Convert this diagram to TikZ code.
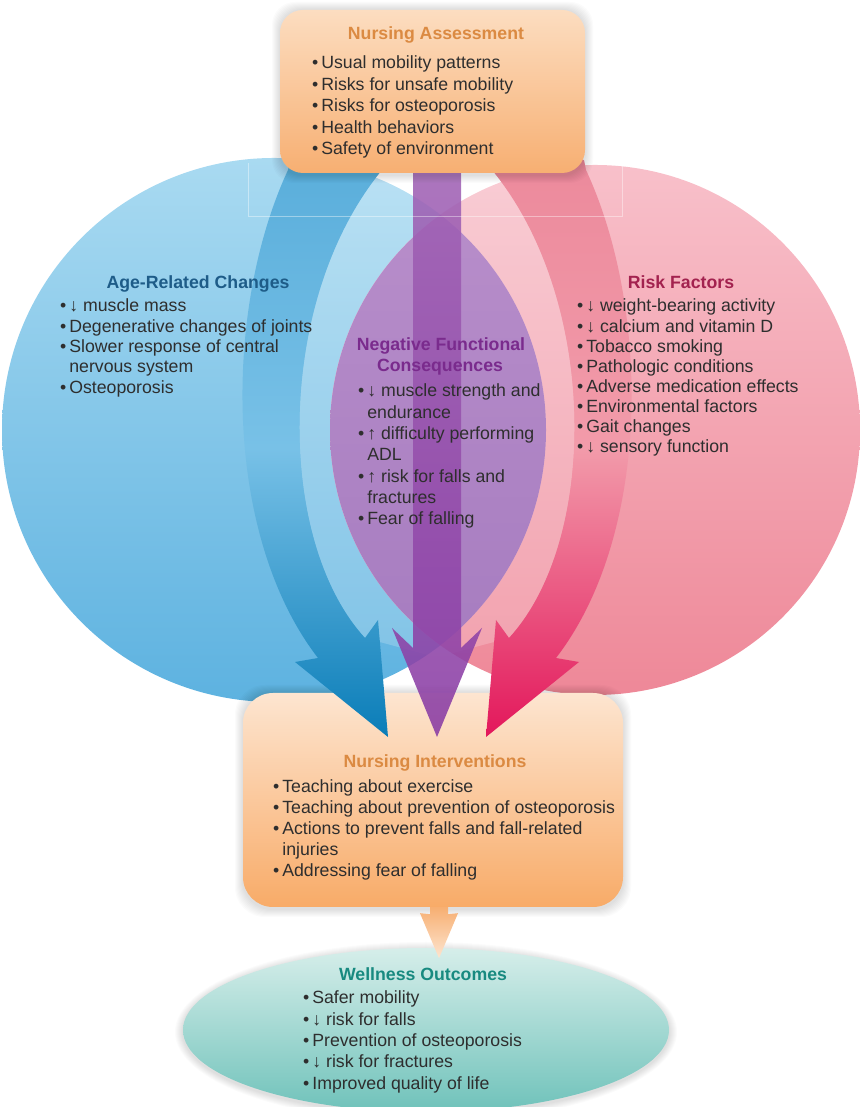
\documentclass[tikz,border=0pt]{standalone}
\usepackage{fontspec}
\setmainfont{Liberation Sans}
\usetikzlibrary{shapes.geometric}

\definecolor{agetop}{HTML}{A9DAF1}
\definecolor{agebot}{HTML}{5DB2E0}
\definecolor{risktop}{HTML}{F8C0CA}
\definecolor{riskbot}{HTML}{EE8898}
\definecolor{lenstop}{HTML}{B98FCB}
\definecolor{lensbot}{HTML}{A57BBF}
\definecolor{blueA}{HTML}{5AAEDB}
\definecolor{blueB}{HTML}{78C1E7}
\definecolor{blueC}{HTML}{0A7DB8}
\definecolor{pinkA}{HTML}{EC8A9C}
\definecolor{pinkB}{HTML}{F29BAA}
\definecolor{pinkC}{HTML}{E3175B}
\definecolor{purpA}{HTML}{A063B5}
\definecolor{purpC}{HTML}{8A3CA4}
\definecolor{boxtop}{HTML}{FCDDC0}
\definecolor{boxbot}{HTML}{F7AF72}
\definecolor{inttop}{HTML}{FDE5D0}
\definecolor{intbot}{HTML}{F8AB68}
\definecolor{welltop}{HTML}{D6EEEA}
\definecolor{wellbot}{HTML}{6FC2BA}
\definecolor{nurshead}{HTML}{DB8A42}
\definecolor{agehead}{HTML}{1E5C88}
\definecolor{riskhead}{HTML}{A3224F}
\definecolor{neghead}{HTML}{7A2B8D}
\definecolor{wellhead}{HTML}{188A80}
\definecolor{ink}{HTML}{2E2E2E}

\newcommand{\skipbul}{\hphantom{•\,}}

\tikzset{
  itemtext/.style={anchor=base west, inner sep=0pt, text=ink, font=\fontsize{17.7}{21}\selectfont},
  headtext/.style={anchor=base, inner sep=0pt, font=\fontsize{17.7}{21}\selectfont\bfseries},
}

\begin{document}
\begin{tikzpicture}[x=1pt,y=1pt]
      \useasboundingbox (0,0) rectangle (859,1107);
      % the two big circles
      \shade[top color=agetop, bottom color=agebot] (274,677) circle (272);
      \shade[top color=risktop, bottom color=riskbot] (595,677) circle (265);
      % pale bands inside the curved arrows
      \begin{scope}
        \clip (274,677) circle (272);
        \clip (365,469) .. controls (275,567) and (275,807) .. (382,937) -- (620,937) -- (620,400) -- cycle;
        \fill[white, fill opacity=0.2] (240,400) rectangle (620,950);
      \end{scope}
      \begin{scope}
        \clip (595,677) circle (265);
        \clip (509,469) .. controls (599,567) and (599,807) .. (492,937) -- (250,937) -- (250,400) -- cycle;
        \fill[white, fill opacity=0.2] (250,400) rectangle (640,950);
      \end{scope}
      % overlap of the circles
      \begin{scope}
        \clip (274,677) circle (272);
        \shade[top color=lenstop, bottom color=lensbot] (595,677) circle (265);
      \end{scope}

      % outcomes ellipse and interventions box
      \foreach \s in {1,...,8}
        \fill[black, fill opacity=0.015] (426,75) ellipse [x radius=243+\s, y radius=82+\s];
      \node[ellipse, minimum width=486pt, minimum height=164pt, inner sep=0pt,
            top color=welltop, bottom color=wellbot] (well) at (426,77) {};
      \foreach \s in {1,...,8}
        \fill[black, fill opacity=0.015, rounded corners=30pt] (243-\s,198-\s) rectangle (623+\s,414+\s);
      \node[rectangle, rounded corners=30pt, minimum width=380pt, minimum height=214pt, inner sep=0pt,
            top color=inttop, bottom color=intbot] (inter) at (433,307) {};
      \begin{scope}[shift={(inter.south)}]
        \shade[top color=boxbot, bottom color=inttop] (-3,0) -- (-3,-7) -- (-13,-6) -- (6,-51) -- (25,-6) -- (15,-7) -- (15,0) -- cycle;
      \end{scope}

      % three arrows into the interventions
      \shade[top color=blueA, bottom color=blueC, middle color=blueB]
        (290,947) -- (288,937) .. controls (223,797) and (223,572) .. (318,449) -- (295,445) -- (388,370)
        -- (378,487) -- (365,469) .. controls (275,567) and (275,807) .. (382,937) -- (388,947) -- cycle;
      \shade[top color=pinkA, bottom color=pinkC, middle color=pinkB]
        (584,947) -- (586,937) .. controls (651,797) and (651,572) .. (556,449) -- (579,445) -- (486,370)
        -- (496,487) -- (509,469) .. controls (599,567) and (599,807) .. (492,937) -- (486,947) -- cycle;
      \shade[top color=purpA, bottom color=purpC, fill opacity=0.88]
        (413,947) -- (413,459) -- (392,479) -- (437,370) -- (482,479) -- (461,459) -- (461,947) -- cycle;
      \draw[white, opacity=0.4, line width=0.8pt] (248,944) |- (622,891) -- (622,944);

      % assessment box
      \foreach \s in {1,...,8}
        \fill[black, fill opacity=0.015, rounded corners=23pt] (280-\s,932-\s) rectangle (585+\s,1097+\s);
      \node[rectangle, rounded corners=23pt, minimum width=305pt, minimum height=163pt, inner sep=0pt,
            top color=boxtop, bottom color=boxbot] (assess) at (432.5,1015.5) {};

      % texts
      \node[headtext, text=nurshead] (assess-t) at (436,1067) {Nursing Assessment};
      \foreach \entry [count=\i] in {•\,Usual mobility patterns, •\,Risks for unsafe mobility,
          •\,Risks for osteoporosis, •\,Health behaviors, •\,Safety of environment}
        \node[itemtext] (assess-\i) at (312,{1038-21.5*(\i-1)}) {\entry};

      \node[headtext, text=agehead] (age-t) at (198,818) {Age-Related Changes};
      \foreach \entry [count=\i] in {•\,↓ muscle mass, •\,Degenerative changes of joints,
          •\,Slower response of central, \skipbul nervous system, •\,Osteoporosis}
        \node[itemtext] (age-\i) at (60,{795-20.3*(\i-1)}) {\entry};

      \node[headtext, text=riskhead] (risk-t) at (681,818) {Risk Factors};
      \foreach \entry [count=\i] in {•\,↓ weight-bearing activity, •\,↓ calcium and vitamin D,
          •\,Tobacco smoking, •\,Pathologic conditions, •\,Adverse medication effects,
          •\,Environmental factors, •\,Gait changes, •\,↓ sensory function}
        \node[itemtext] (risk-\i) at (577,{795-20.1*(\i-1)}) {\entry};

      \node[headtext, text=neghead] (neg-t) at (441,756) {Negative Functional};
      \node[headtext, text=neghead] (neg-t2) at (440,735) {Consequences};
      \foreach \entry [count=\i] in {•\,↓ muscle strength and, \skipbul endurance,
          •\,↑ difficulty performing, \skipbul ADL, •\,↑ risk for falls and,
          \skipbul fractures, •\,Fear of falling}
        \node[itemtext] (neg-\i) at (358,{710-21.3*(\i-1)}) {\entry};

      \node[headtext, text=nurshead] (inter-t) at (435,339) {Nursing Interventions};
      \foreach \entry [count=\i] in {•\,Teaching about exercise, •\,Teaching about prevention of osteoporosis,
          •\,Actions to prevent falls and fall-related, \skipbul injuries, •\,Addressing fear of falling}
        \node[itemtext] (inter-\i) at (273,{314-21*(\i-1)}) {\entry};

      \node[headtext, text=wellhead] (well-t) at (423,126) {Wellness Outcomes};
      \foreach \entry [count=\i] in {•\,Safer mobility, •\,↓ risk for falls, •\,Prevention of osteoporosis,
          •\,↓ risk for fractures, •\,Improved quality of life}
        \node[itemtext] (well-\i) at (303,{103-21.3*(\i-1)}) {\entry};
    \end{tikzpicture}
\end{document}
